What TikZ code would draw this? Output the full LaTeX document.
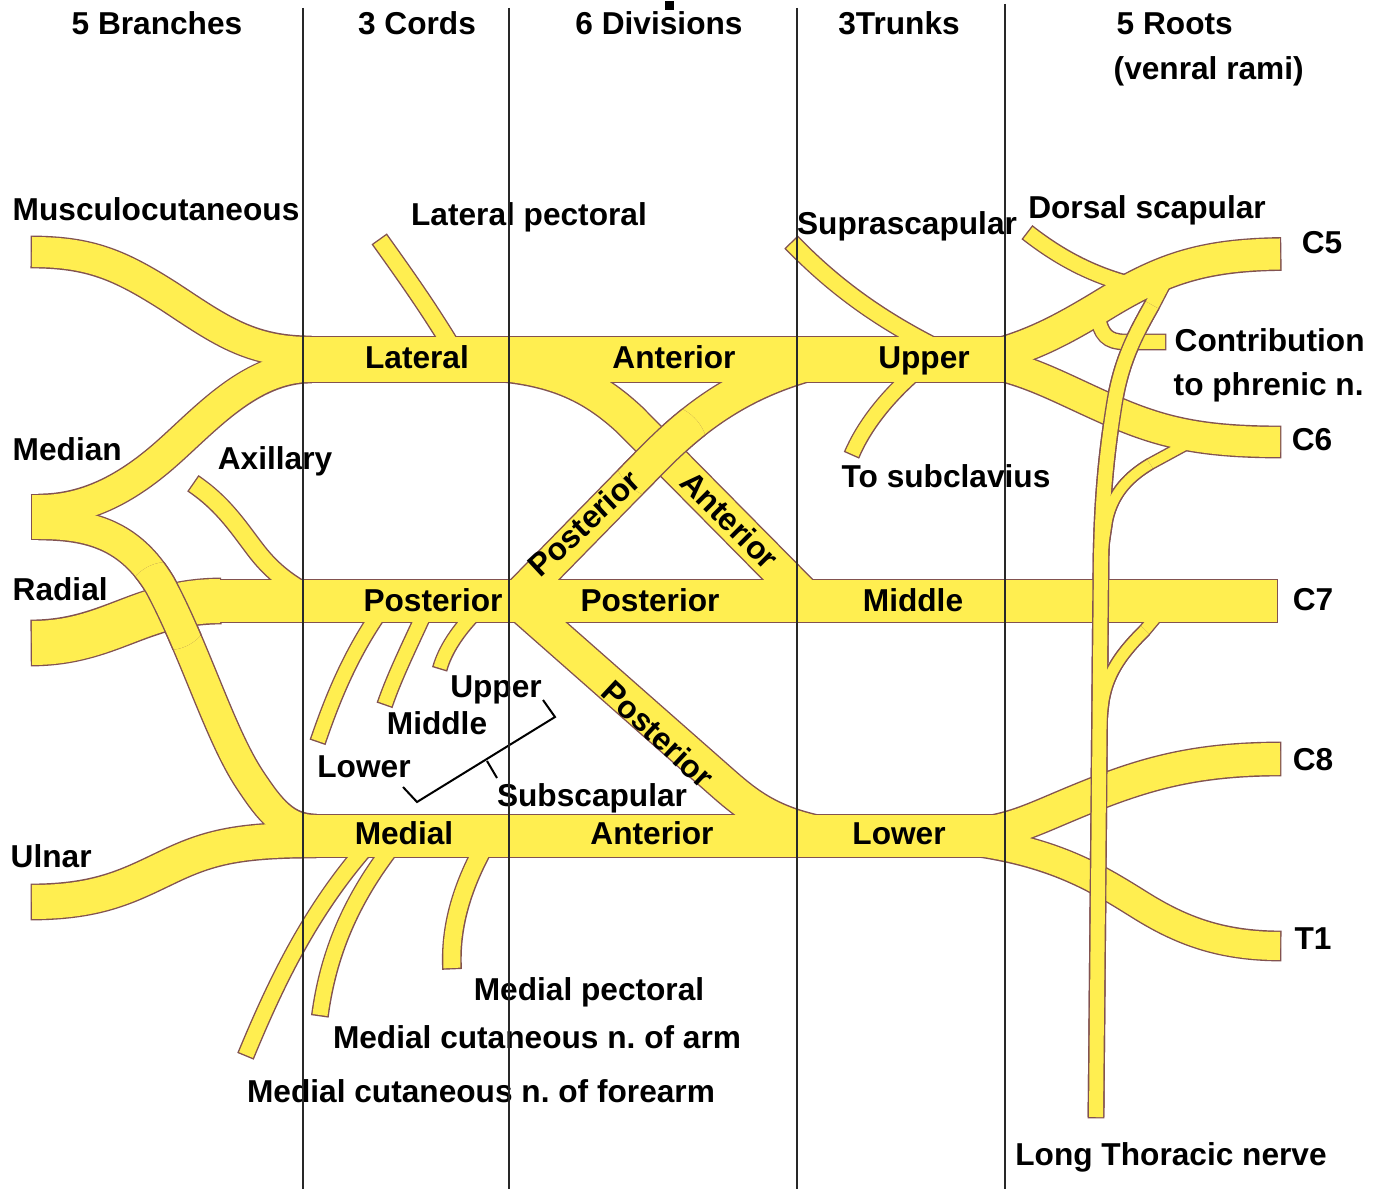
\documentclass[tikz,border=0pt]{standalone}
\usepackage{fontspec}
\setmainfont{Liberation Sans}
\definecolor{nvfill}{RGB}{255,238,80}
\definecolor{nvline}{RGB}{130,82,80}
\definecolor{gridline}{RGB}{40,40,40}
\newif\ifol
\newcommand{\olext}{-0.014cm}
\newcommand{\nv}[2]{\ifol\draw[nvline,line width=#1*0.01cm+0.028cm,shorten <=\olext,shorten >=\olext]#2;\else\draw[nvfill,line width=#1*0.01cm]#2;\fi}
\newcommand{\nb}[1]{\ifol\filldraw[nvline,line width=0.028cm]#1;\else\fill[nvfill]#1;\fi}
% paths used more than once
\newcommand{\pPDU}{(512,603) -- (650,462) .. controls (690,421) and (735,385) .. (805,365)}
\newcommand{\pMedR}{(40,524) .. controls (90,524) and (130,535) .. (160,585) .. controls (195,650) and (220,735) .. (250,780) .. controls (270,810) and (285,830) .. (315,830)}
\newcommand{\pLTN}{(1165,280) -- (1152,305) .. controls (1135,335) and (1122,360) .. (1115,400) .. controls (1106,455) and (1102,500) .. (1101,560) -- (1096,1117)}
\newcommand{\pLTNb}{(1152,305) .. controls (1135,335) and (1122,360) .. (1115,400) .. controls (1106,455) and (1102,500) .. (1101,560) -- (1096,1117)}
\newcommand{\pRsix}{(1185,445) -- (1150,464) .. controls (1130,476) and (1113,492) .. (1107,520) .. controls (1104,540) and (1102,550) .. (1101,575)}
\newcommand{\pRsixb}{(1150,464) .. controls (1130,476) and (1113,492) .. (1107,520) .. controls (1104,540) and (1102,550) .. (1101,575)}
\newcommand{\pRsev}{(1160,612) -- (1145,630) .. controls (1125,650) and (1108,670) .. (1103,700) .. controls (1101,715) and (1100,725) .. (1100,745)}
\newcommand{\pRsevb}{(1145,630) .. controls (1125,650) and (1108,670) .. (1103,700) .. controls (1101,715) and (1100,725) .. (1100,745)}
\newcommand{\allnerves}{%
  % cords / divisions / trunks bands
  \nb{(290,337) rectangle (1005,382)}
  \nb{(210,580) rectangle (1277,622)}
  \nb{(290,815) rectangle (1005,857)}
  % terminal branches
  \nv{44}{(32,517) -- (60,517)}
  \nv{30}{(40,510) .. controls (85,510) and (125,490) .. (165,455) .. controls (205,420) and (250,367) .. (310,367)}
  \nv{30}{\pMedR}
  \nv{30}{(32,252) .. controls (90,252) and (120,265) .. (170,297) .. controls (220,330) and (250,352) .. (310,352)}
  \nv{44}{(32,643) .. controls (110,643) and (140,601) .. (220,601)}
  \nv{34}{(32,902) .. controls (100,902) and (130,885) .. (170,866) .. controls (210,847) and (240,840) .. (315,840)}
  \nv{17}{(194,484) .. controls (225,505) and (240,530) .. (258,553) .. controls (270,568) and (285,582) .. (310,595)}
  % collateral branches
  \nv{16}{(380,240) .. controls (405,275) and (430,310) .. (455,352)}
  \nv{14}{(318,741) .. controls (332,700) and (350,655) .. (380,612)}
  \nv{14}{(385,704) .. controls (395,675) and (410,645) .. (425,612)}
  \nv{13}{(440,668) .. controls (445,650) and (458,630) .. (478,610)}
  \nv{15}{(246,1055) .. controls (275,985) and (310,910) .. (370,843)}
  \nv{15}{(320,1015) .. controls (328,955) and (350,900) .. (395,843)}
  \nv{17}{(452,968) .. controls (450,930) and (460,890) .. (485,845)}
  \nv{16}{(792,243) .. controls (830,282) and (875,318) .. (945,352)}
  \nv{14}{(852,454) .. controls (863,428) and (885,398) .. (918,370)}
  \nv{15}{(1028,233) .. controls (1060,258) and (1095,277) .. (1140,287)}
  \nv{14}{(1098,315) .. controls (1100,335) and (1108,342) .. (1125,342) -- (1165,342)}
  % divisions
  \nv{33}{\pPDU}
  \nv{34}{(455,362) .. controls (540,362) and (585,378) .. (630,420) -- (805,597)}
  \nv{33}{(515,600) -- (725,785) .. controls (748,805) and (770,822) .. (815,832)}
  % roots
  \nv{31}{(1280,254) .. controls (1200,255) and (1160,270) .. (1100,307) .. controls (1060,331) and (1030,347) .. (985,358)}
  \nv{30}{(1280,442) .. controls (1200,442) and (1160,432) .. (1110,410) .. controls (1060,388) and (1030,370) .. (985,362)}
  \nv{32}{(1280,759) .. controls (1200,759) and (1150,772) .. (1090,796) .. controls (1040,816) and (1020,828) .. (985,833)}
  \nv{28}{(1280,946) .. controls (1220,946) and (1180,930) .. (1140,905) .. controls (1100,880) and (1060,855) .. (985,843)}
  % long thoracic nerve
  \nv{14}{\pLTN}
  \nv{10}{\pRsix}
  \nv{11}{\pRsev}
}
\newcommand{\ltnparts}{%
  \nv{14}{\pLTNb}
  \nv{10}{\pRsixb}
  \nv{11}{\pRsevb}
}
\tikzset{
  lbl/.style={font=\fontsize{9pt}{11pt}\selectfont\bfseries, inner sep=0pt, text=black},
  colline/.style={gridline, line width=0.015cm},
  bracketline/.style={black, line width=0.02cm, line join=miter}
}
\begin{document}
\begin{tikzpicture}[x=0.01cm,y=-0.01cm]
\useasboundingbox (0,0) rectangle (1379,1189);
\fill[white] (0,0) rectangle (1379,1189);
% nerves: outline pass, then fill pass (merged shapes)
\oltrue\allnerves
\olfalse\allnerves
% crossings drawn on top
\begin{scope}
  \clip (661,451) circle (0.47cm);
  \oltrue\nv{33}{\pPDU}\olfalse\nv{33}{\pPDU}
\end{scope}
\begin{scope}
  \clip (168,606) circle (0.44cm);
  \oltrue\nv{30}{\pMedR}\olfalse\nv{30}{\pMedR}
\end{scope}
\renewcommand{\olext}{0cm}
\oltrue\ltnparts
\olfalse\ltnparts
% headers
\node[lbl, anchor=base] (hBr) at (157,35) {5 Branches};
\node[lbl, anchor=base] (hCo) at (417,35) {3 Cords};
\node[lbl, anchor=base] (hDi) at (659,35) {6 Divisions};
\node[lbl, anchor=base] (hTr) at (899,35) {3Trunks};
\node[lbl, anchor=base west] (hRo) at (1116,35) {5 Roots};
\node[lbl, anchor=base west] (hRa) at (1113,80) {(venral rami)};
% branch labels
\node[lbl, anchor=base west] (lMus) at (12,221) {Musculocutaneous};
\node[lbl, anchor=base] (lLP) at (529,226) {Lateral pectoral};
\node[lbl, anchor=base] (lSS) at (907,235) {Suprascapular};
\node[lbl, anchor=base] (lDS) at (1147,219) {Dorsal scapular};
\node[lbl, anchor=base] (lC5) at (1322,254) {C5};
\node[lbl, anchor=base west] (lCo1) at (1174,352) {Contribution};
\node[lbl, anchor=base west] (lCo2) at (1173,396) {to phrenic n.};
\node[lbl, anchor=base] (lC6) at (1312,451) {C6};
\node[lbl, anchor=base] (lLat) at (417,369) {Lateral};
\node[lbl, anchor=base] (lAnt1) at (674,369) {Anterior};
\node[lbl, anchor=base] (lUpT) at (924,369) {Upper};
\node[lbl, anchor=base west] (lMed) at (12,461) {Median};
\node[lbl, anchor=base] (lAx) at (275,470) {Axillary};
\node[lbl, anchor=base] (lSub) at (946,488) {To subclavius};
\node[lbl, rotate=43] (lPU) at (584,523) {Posterior};
\node[lbl, rotate=-45] (lAM) at (730,520) {Anterior};
\node[lbl, anchor=base west] (lRad) at (12,601) {Radial};
\node[lbl, anchor=base] (lPC) at (433,612) {Posterior};
\node[lbl, anchor=base] (lPD) at (650,612) {Posterior};
\node[lbl, anchor=base] (lMid) at (913,612) {Middle};
\node[lbl, anchor=base] (lC7) at (1313,611) {C7};
\node[lbl, anchor=base] (lSU) at (496,698) {Upper};
\node[lbl, anchor=base] (lSM) at (437,735) {Middle};
\node[lbl, anchor=base] (lSL) at (364,778) {Lower};
\node[lbl, anchor=base] (lSc) at (592,807) {Subscapular};
\node[lbl, rotate=-43] (lPL) at (658,734) {Posterior};
\node[lbl, anchor=base] (lC8) at (1313,771) {C8};
\node[lbl, anchor=base] (lMC) at (404,845) {Medial};
\node[lbl, anchor=base] (lAnt3) at (652,845) {Anterior};
\node[lbl, anchor=base] (lLoT) at (899,845) {Lower};
\node[lbl, anchor=base west] (lUl) at (10,867) {Ulnar};
\node[lbl, anchor=base] (lT1) at (1313,949) {T1};
\node[lbl, anchor=base] (lMP) at (589,1000) {Medial pectoral};
\node[lbl, anchor=base] (lMCA) at (537,1048) {Medial cutaneous n.\ of arm};
\node[lbl, anchor=base] (lMCF) at (481,1102) {Medial cutaneous n.\ of forearm};
\node[lbl, anchor=base] (lLT) at (1171,1165) {Long Thoracic nerve};
% subscapular bracket
\draw[bracketline] (543,700) -- (555,717) -- (417,802) -- (403,787);
\draw[bracketline] (487,761) -- (497,778);
% column lines
\draw[colline] (303,8) -- (303,1189);
\draw[colline] (509,8) -- (509,1189);
\draw[colline] (797,8) -- (797,1189);
\draw[colline] (1005,4) -- (1005,1189);
\fill[black] (665,1) rectangle (674,10);
\end{tikzpicture}
\end{document}
